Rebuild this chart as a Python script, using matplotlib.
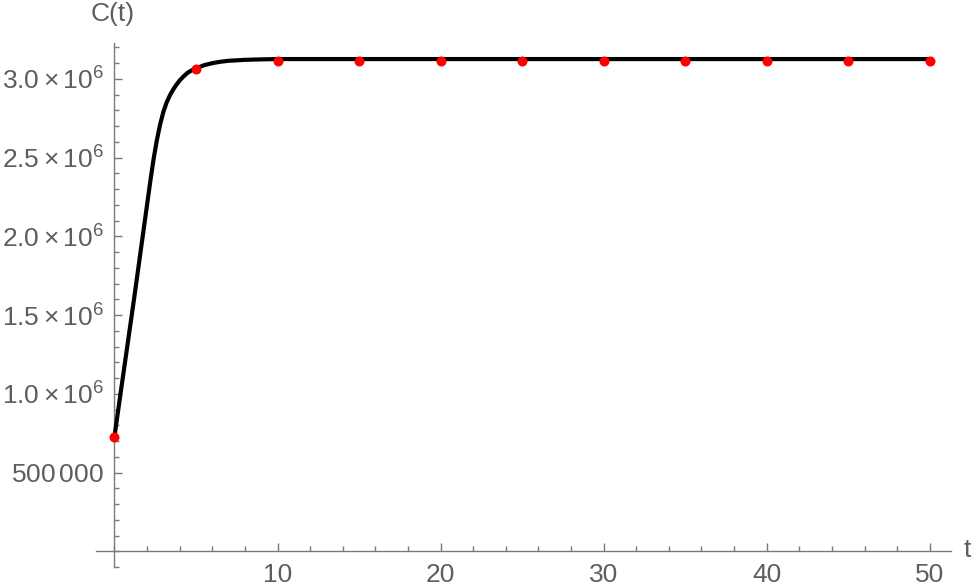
import matplotlib
matplotlib.use("Agg")
import matplotlib.pyplot as plt
from matplotlib.ticker import FixedLocator, MultipleLocator

plt.rcParams['font.family'] = ['Liberation Sans', 'DejaVu Sans']
plt.rcParams['mathtext.fontset'] = 'custom'
plt.rcParams['mathtext.rm'] = 'Liberation Sans'
plt.rcParams['mathtext.it'] = 'Liberation Sans:italic'
plt.rcParams['mathtext.bf'] = 'Liberation Sans:bold'

# ---- data ----
curve_t = [0, 0.1, 0.25, 0.4, 0.6, 0.8, 1.0, 1.2, 1.4, 1.6, 1.8, 2.0, 2.2,
           2.4, 2.6, 2.8, 3.0, 3.2, 3.4, 3.6, 3.8, 4.0, 4.25, 4.5, 4.75,
           5.0, 5.5, 6.0, 6.5, 7.0, 8.0, 9.0, 10, 20, 30, 40, 50]
curve_c = [0.728e6, 0.80e6, 0.91e6, 1.02e6, 1.165e6, 1.31e6, 1.455e6, 1.60e6,
           1.75e6, 1.90e6, 2.05e6, 2.20e6, 2.35e6, 2.49e6, 2.61e6, 2.71e6,
           2.79e6, 2.85e6, 2.895e6, 2.932e6, 2.963e6, 2.99e6, 3.017e6,
           3.04e6, 3.055e6, 3.067e6, 3.087e6, 3.10e6, 3.109e6, 3.115e6,
           3.121e6, 3.124e6, 3.126e6, 3.126e6, 3.126e6, 3.126e6, 3.126e6]

data_t = [0, 5, 10, 15, 20, 25, 30, 35, 40, 45, 50]
data_c = [0.728e6, 3.063e6, 3.114e6, 3.114e6, 3.114e6, 3.114e6, 3.114e6,
          3.114e6, 3.114e6, 3.114e6, 3.114e6]

x_ticks = [10, 20, 30, 40, 50]
x_tick_labels = ['10', '20', '30', '40', '50']
y_ticks = [0.5e6, 1.0e6, 1.5e6, 2.0e6, 2.5e6, 3.0e6]
y_tick_labels = [r'$\mathregular{500\,000}$',
                 r'$\mathregular{1.0\times10^{6}}$',
                 r'$\mathregular{1.5\times10^{6}}$',
                 r'$\mathregular{2.0\times10^{6}}$',
                 r'$\mathregular{2.5\times10^{6}}$',
                 r'$\mathregular{3.0\times10^{6}}$']

axis_col = '#7a7a7a'
text_col = '#5e5e5e'
fs = 19

fig = plt.figure(figsize=(9.75, 5.88), dpi=100)
ax = fig.add_axes([96/975, 1-567/588, (951-96)/975, (567-43)/588])

ax.plot(curve_t, curve_c, color='black', lw=3.0, solid_joinstyle='round',
        zorder=3)
ax.plot(data_t, data_c, 'o', color='#ff0000', ms=7.2, mec='none', zorder=4,
        clip_on=False)

ax.set_xlim(-1.13, 51.3)
ax.set_ylim(-0.1e6, 3.228e6)

for s in ['top', 'right']:
    ax.spines[s].set_visible(False)
ax.spines['left'].set_position(('data', 0))
ax.spines['bottom'].set_position(('data', 0))
for s in ['left', 'bottom']:
    ax.spines[s].set_color(axis_col)
    ax.spines[s].set_linewidth(1.0)

ax.xaxis.set_major_locator(FixedLocator(x_ticks))
ax.set_xticklabels(x_tick_labels)
ax.xaxis.set_minor_locator(MultipleLocator(2))
ax.yaxis.set_major_locator(FixedLocator(y_ticks))
ax.set_yticklabels(y_tick_labels)
ax.yaxis.set_minor_locator(MultipleLocator(1e5))

ax.tick_params(axis='both', which='major', direction='in', length=6,
               width=1.0, color=axis_col, labelcolor=text_col, labelsize=fs)
ax.tick_params(axis='both', which='minor', direction='in', length=3.6,
               width=1.0, color=axis_col)
ax.tick_params(axis='x', which='major', pad=8.5)
ax.tick_params(axis='y', which='major', pad=7.5)

fig.text(113/975, 1-14/588, 'C(t)', ha='center', va='center',
         fontsize=fs, color=text_col)
fig.text(967/975, 1-550/588, 't', ha='center', va='center',
         fontsize=fs, color=text_col)

fig.savefig('out.png', dpi=100)
